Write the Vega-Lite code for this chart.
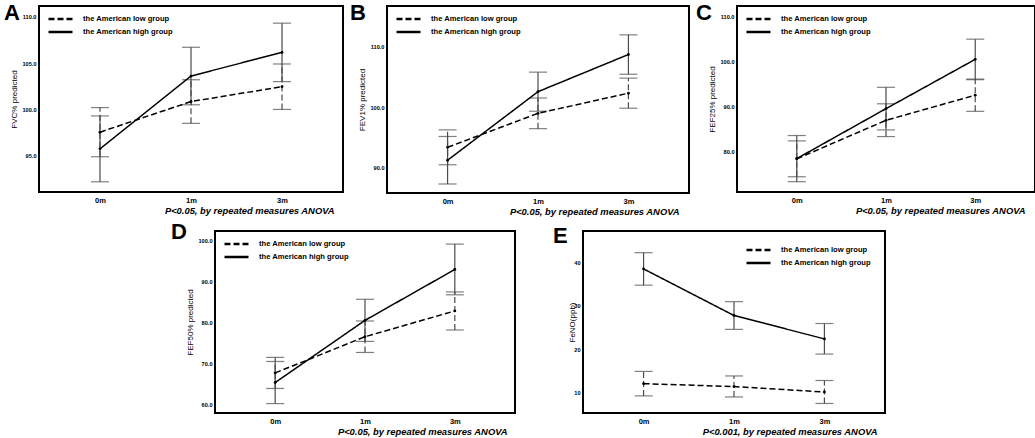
{
  "$schema": "https://vega.github.io/schema/vega-lite/v6.json",
  "padding": {"left": 3, "top": 1, "right": 0, "bottom": 0},
  "background": "white",
  "data": {
    "values": [
      {"p": "A", "t": "0m", "g": "the American low group", "m": 97.55, "lo": 94.9, "hi": 100.2},
      {"p": "A", "t": "1m", "g": "the American low group", "m": 100.85, "lo": 98.5, "hi": 103.2},
      {"p": "A", "t": "3m", "g": "the American low group", "m": 102.45, "lo": 100.0, "hi": 104.9},
      {"p": "A", "t": "0m", "g": "the American high group", "m": 95.75, "lo": 92.2, "hi": 99.3},
      {"p": "A", "t": "1m", "g": "the American high group", "m": 103.6, "lo": 100.5, "hi": 106.7},
      {"p": "A", "t": "3m", "g": "the American high group", "m": 106.15, "lo": 103.0, "hi": 109.3},
      {"p": "B", "t": "0m", "g": "the American low group", "m": 93.3, "lo": 90.4, "hi": 96.2},
      {"p": "B", "t": "1m", "g": "the American low group", "m": 98.95, "lo": 96.4, "hi": 101.5},
      {"p": "B", "t": "3m", "g": "the American low group", "m": 102.3, "lo": 99.8, "hi": 104.8},
      {"p": "B", "t": "0m", "g": "the American high group", "m": 91.15, "lo": 87.2, "hi": 95.1},
      {"p": "B", "t": "1m", "g": "the American high group", "m": 102.55, "lo": 99.3, "hi": 105.8},
      {"p": "B", "t": "3m", "g": "the American high group", "m": 108.73, "lo": 105.45, "hi": 112.0},
      {"p": "C", "t": "0m", "g": "the American low group", "m": 78.3, "lo": 74.3, "hi": 82.3},
      {"p": "C", "t": "1m", "g": "the American low group", "m": 86.9, "lo": 83.27, "hi": 90.58},
      {"p": "C", "t": "3m", "g": "the American low group", "m": 92.5, "lo": 88.9, "hi": 96.1},
      {"p": "C", "t": "0m", "g": "the American high group", "m": 78.35, "lo": 73.2, "hi": 83.5},
      {"p": "C", "t": "1m", "g": "the American high group", "m": 89.5, "lo": 84.75, "hi": 94.26},
      {"p": "C", "t": "3m", "g": "the American high group", "m": 100.5, "lo": 95.96, "hi": 105.0},
      {"p": "D", "t": "0m", "g": "the American low group", "m": 67.7, "lo": 63.9, "hi": 71.5},
      {"p": "D", "t": "1m", "g": "the American low group", "m": 76.55, "lo": 72.7, "hi": 80.4},
      {"p": "D", "t": "3m", "g": "the American low group", "m": 82.85, "lo": 78.2, "hi": 87.5},
      {"p": "D", "t": "0m", "g": "the American high group", "m": 65.35, "lo": 60.2, "hi": 70.5},
      {"p": "D", "t": "1m", "g": "the American high group", "m": 80.55, "lo": 75.4, "hi": 85.7},
      {"p": "D", "t": "3m", "g": "the American high group", "m": 93.0, "lo": 86.8, "hi": 99.2},
      {"p": "E", "t": "0m", "g": "the American low group", "m": 12.07, "lo": 9.25, "hi": 14.9},
      {"p": "E", "t": "1m", "g": "the American low group", "m": 11.4, "lo": 9.0, "hi": 13.85},
      {"p": "E", "t": "3m", "g": "the American low group", "m": 10.15, "lo": 7.5, "hi": 12.8},
      {"p": "E", "t": "0m", "g": "the American high group", "m": 38.55, "lo": 34.8, "hi": 42.3},
      {"p": "E", "t": "1m", "g": "the American high group", "m": 27.8, "lo": 24.6, "hi": 31.0},
      {"p": "E", "t": "3m", "g": "the American high group", "m": 22.4, "lo": 18.9, "hi": 25.95}
    ]
  },
  "spacing": 3,
  "resolve": {"scale": {"strokeDash": "independent"}, "legend": {"strokeDash": "independent"}},
  "vconcat": [
    {
      "spacing": 5,
      "resolve": {"scale": {"strokeDash": "independent"}, "legend": {"strokeDash": "independent"}},
      "hconcat": [
        {
          "width": 304, "height": 186,
          "title": {"text": "A", "dx": -35},
          "transform": [{"filter": "datum.p === 'A'"}],
          "encoding": {"x": {"field": "t", "type": "ordinal", "sort": ["0m", "1m", "3m"], "scale": {"type": "point"}, "axis": {"title": "P<0.05, by repeated measures ANOVA", "titleX": 295, "titleAlign": "right"}}},
          "layer": [
            {"mark": {"type": "rule", "color": "#4a4a4a", "strokeWidth": 1.2},
             "encoding": {"y": {"field": "lo", "type": "quantitative", "scale": {"domain": [91.1, 111.15]}, "axis": {"title": "FVC% predicted", "values": [95, 100, 105, 110], "format": ".1f"}},
               "y2": {"field": "hi"},
               "strokeDash": {"condition": {"test": "datum.g === 'the American low group'", "value": [6, 3]}, "value": [1, 0]}}},
            {"transform": [{"fold": ["lo", "hi"], "as": ["k", "v"]}],
             "mark": {"type": "tick", "color": "#4a4a4a", "size": 18, "thickness": 1.2},
             "encoding": {"y": {"field": "v", "type": "quantitative", "scale": {"domain": [91.1, 111.15]}}}},
            {"mark": {"type": "line", "color": "black", "strokeWidth": 1.5},
             "encoding": {"y": {"field": "m", "type": "quantitative", "scale": {"domain": [91.1, 111.15]}},
               "strokeDash": {"field": "g", "type": "nominal", "scale": {"domain": ["the American low group", "the American high group"], "range": [[6, 3], [1, 0]]}, "legend": {"title": null}}}},
            {"mark": {"type": "point", "filled": true, "color": "black", "size": 8, "opacity": 1},
             "encoding": {"y": {"field": "m", "type": "quantitative", "scale": {"domain": [91.1, 111.15]}}}}
          ]
        },
        {
          "width": 302, "height": 187,
          "title": {"text": "B", "dx": -37},
          "transform": [{"filter": "datum.p === 'B'"}],
          "encoding": {"x": {"field": "t", "type": "ordinal", "sort": ["0m", "1m", "3m"], "scale": {"type": "point"}, "axis": {"title": "P<0.05, by repeated measures ANOVA", "titleX": 292, "titleAlign": "right"}}},
          "layer": [
            {"mark": {"type": "rule", "color": "#4a4a4a", "strokeWidth": 1.2},
             "encoding": {"y": {"field": "lo", "type": "quantitative", "scale": {"domain": [85.7, 116.8]}, "axis": {"title": "FEV1% predicted", "values": [90, 95, 100, 105, 110, 115], "format": ".1f"}},
               "y2": {"field": "hi"},
               "strokeDash": {"condition": {"test": "datum.g === 'the American low group'", "value": [6, 3]}, "value": [1, 0]}}},
            {"transform": [{"fold": ["lo", "hi"], "as": ["k", "v"]}],
             "mark": {"type": "tick", "color": "#4a4a4a", "size": 18, "thickness": 1.2},
             "encoding": {"y": {"field": "v", "type": "quantitative", "scale": {"domain": [85.7, 116.8]}}}},
            {"mark": {"type": "line", "color": "black", "strokeWidth": 1.5},
             "encoding": {"y": {"field": "m", "type": "quantitative", "scale": {"domain": [85.7, 116.8]}},
               "strokeDash": {"field": "g", "type": "nominal", "scale": {"domain": ["the American low group", "the American high group"], "range": [[6, 3], [1, 0]]}, "legend": {"title": null}}}},
            {"mark": {"type": "point", "filled": true, "color": "black", "size": 8, "opacity": 1},
             "encoding": {"y": {"field": "m", "type": "quantitative", "scale": {"domain": [85.7, 116.8]}}}}
          ]
        },
        {
          "width": 298, "height": 186,
          "title": {"text": "C", "dx": -41},
          "transform": [{"filter": "datum.p === 'C'"}],
          "encoding": {"x": {"field": "t", "type": "ordinal", "sort": ["0m", "1m", "3m"], "scale": {"type": "point"}, "axis": {"title": "P<0.05, by repeated measures ANOVA", "titleX": 288, "titleAlign": "right"}}},
          "layer": [
            {"mark": {"type": "rule", "color": "#4a4a4a", "strokeWidth": 1.2},
             "encoding": {"y": {"field": "lo", "type": "quantitative", "scale": {"domain": [70.9, 112.4]}, "axis": {"title": "FEF25% predicted", "values": [80, 90, 100, 110], "format": ".1f"}},
               "y2": {"field": "hi"},
               "strokeDash": {"condition": {"test": "datum.g === 'the American low group'", "value": [6, 3]}, "value": [1, 0]}}},
            {"transform": [{"fold": ["lo", "hi"], "as": ["k", "v"]}],
             "mark": {"type": "tick", "color": "#4a4a4a", "size": 18, "thickness": 1.2},
             "encoding": {"y": {"field": "v", "type": "quantitative", "scale": {"domain": [70.9, 112.4]}}}},
            {"mark": {"type": "line", "color": "black", "strokeWidth": 1.5},
             "encoding": {"y": {"field": "m", "type": "quantitative", "scale": {"domain": [70.9, 112.4]}},
               "strokeDash": {"field": "g", "type": "nominal", "scale": {"domain": ["the American low group", "the American high group"], "range": [[6, 3], [1, 0]]}, "legend": {"title": null}}}},
            {"mark": {"type": "point", "filled": true, "color": "black", "size": 8, "opacity": 1},
             "encoding": {"y": {"field": "m", "type": "quantitative", "scale": {"domain": [70.9, 112.4]}}}}
          ]
        }
      ]
    },
    {
      "spacing": 36,
      "resolve": {"scale": {"strokeDash": "independent"}, "legend": {"strokeDash": "independent"}},
      "hconcat": [
        {
          "width": 95, "height": 10,
          "view": {"stroke": null},
          "data": {"values": [{"s": 0}]},
          "mark": {"type": "point", "opacity": 0}
        },
        {
          "width": 300, "height": 182,
          "title": {"text": "D", "dx": -44, "offset": -13},
          "transform": [{"filter": "datum.p === 'D'"}],
          "encoding": {"x": {"field": "t", "type": "ordinal", "sort": ["0m", "1m", "3m"], "scale": {"type": "point"}, "axis": {"title": "P<0.05, by repeated measures ANOVA", "titleX": 292, "titleAlign": "right"}}},
          "layer": [
            {"mark": {"type": "rule", "color": "#4a4a4a", "strokeWidth": 1.2},
             "encoding": {"y": {"field": "lo", "type": "quantitative", "scale": {"domain": [57.9, 102.4]}, "axis": {"title": "FEF50% predicted", "values": [60, 70, 80, 90, 100], "format": ".1f"}},
               "y2": {"field": "hi"},
               "strokeDash": {"condition": {"test": "datum.g === 'the American low group'", "value": [6, 3]}, "value": [1, 0]}}},
            {"transform": [{"fold": ["lo", "hi"], "as": ["k", "v"]}],
             "mark": {"type": "tick", "color": "#4a4a4a", "size": 18, "thickness": 1.2},
             "encoding": {"y": {"field": "v", "type": "quantitative", "scale": {"domain": [57.9, 102.4]}}}},
            {"mark": {"type": "line", "color": "black", "strokeWidth": 1.5},
             "encoding": {"y": {"field": "m", "type": "quantitative", "scale": {"domain": [57.9, 102.4]}},
               "strokeDash": {"field": "g", "type": "nominal", "scale": {"domain": ["the American low group", "the American high group"], "range": [[6, 3], [1, 0]]}, "legend": {"title": null}}}},
            {"mark": {"type": "point", "filled": true, "color": "black", "size": 8, "opacity": 1},
             "encoding": {"y": {"field": "m", "type": "quantitative", "scale": {"domain": [57.9, 102.4]}}}}
          ]
        },
        {
          "width": 302, "height": 182,
          "title": {"text": "E", "dx": -30, "offset": -17},
          "transform": [{"filter": "datum.p === 'E'"}],
          "encoding": {"x": {"field": "t", "type": "ordinal", "sort": ["0m", "1m", "3m"], "scale": {"type": "point"}, "axis": {"title": "P<0.001, by repeated measures ANOVA", "titleX": 294, "titleAlign": "right"}}},
          "layer": [
            {"mark": {"type": "rule", "color": "#4a4a4a", "strokeWidth": 1.2},
             "encoding": {"y": {"field": "lo", "type": "quantitative", "scale": {"domain": [5.3, 47.3]}, "axis": {"title": "FeNO(ppb)", "values": [10, 20, 30, 40], "format": "d", "titlePadding": -3}},
               "y2": {"field": "hi"},
               "strokeDash": {"condition": {"test": "datum.g === 'the American low group'", "value": [6, 3]}, "value": [1, 0]}}},
            {"transform": [{"fold": ["lo", "hi"], "as": ["k", "v"]}],
             "mark": {"type": "tick", "color": "#4a4a4a", "size": 18, "thickness": 1.2},
             "encoding": {"y": {"field": "v", "type": "quantitative", "scale": {"domain": [5.3, 47.3]}}}},
            {"mark": {"type": "line", "color": "black", "strokeWidth": 1.5},
             "encoding": {"y": {"field": "m", "type": "quantitative", "scale": {"domain": [5.3, 47.3]}},
               "strokeDash": {"field": "g", "type": "nominal", "scale": {"domain": ["the American low group", "the American high group"], "range": [[6, 3], [1, 0]]}, "legend": {"title": null, "orient": "top-right", "offset": 6}}}},
            {"mark": {"type": "point", "filled": true, "color": "black", "size": 8, "opacity": 1},
             "encoding": {"y": {"field": "m", "type": "quantitative", "scale": {"domain": [5.3, 47.3]}}}}
          ]
        }
      ]
    }
  ],
  "config": {
    "font": "Liberation Sans",
    "view": {"stroke": "black", "strokeWidth": 2},
    "scale": {"pointPadding": 0.67},
    "axis": {"grid": false, "ticks": false, "domain": false, "labelColor": "black", "titleColor": "black", "labelFontWeight": "bold"},
    "axisX": {"labelAngle": 0, "labelFontSize": 7.5, "labelPadding": 4, "titleFontSize": 9.4, "titleFontWeight": "bold", "titleFontStyle": "italic", "titlePadding": 3},
    "axisY": {"labelFontSize": 5.6, "labelPadding": 3, "titleFontSize": 8, "titleFontWeight": "normal", "titlePadding": 4},
    "legend": {"orient": "top-left", "offset": 0, "padding": 8, "symbolType": "stroke", "symbolSize": 576, "symbolStrokeWidth": 2.5, "symbolStrokeColor": "black", "labelFontSize": 7.6, "labelFontWeight": "bold", "labelColor": "black", "labelOffset": 9, "clipHeight": 10, "rowPadding": 3},
    "title": {"anchor": "start", "frame": "group", "fontSize": 22, "fontWeight": "bold", "color": "black", "baseline": "top", "offset": -19}
  }
}
